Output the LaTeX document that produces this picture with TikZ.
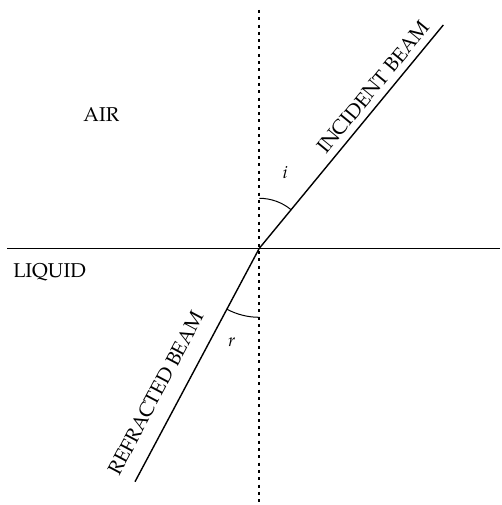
\documentclass[tikz,border=0pt]{standalone}
\usepackage{fontspec}
\setmainfont{TeX Gyre Pagella}
\begin{document}
\begin{tikzpicture}[x=1pt,y=1pt,
  beam/.style={line width=1.4pt},
  axisline/.style={line width=1.5pt},
  normalline/.style={line width=1.7pt, dash pattern=on 3pt off 4.3pt},
  anglearc/.style={line width=1pt},
  lbl/.style={inner sep=0pt, font=\fontsize{20}{24}\selectfont},
  anglbl/.style={inner sep=0pt, font=\fontsize{18}{22}\selectfont\itshape}]
\useasboundingbox (0,0) rectangle (501,-505);
\coordinate (O) at (259.3,-248.3);
\coordinate (A) at (443.3,-25);
\coordinate (B) at (135,-481.7);
\coordinate (H1) at (7,-248.3);
\coordinate (H2) at (500,-248.3);
\coordinate (V1) at (259.3,-10);
\coordinate (V2) at (259.3,-505);
\draw[axisline] (H1) -- (H2);
\draw[normalline] (V1) -- (V2);
\draw[beam] (O) -- (A);
\draw[beam] (O) -- (B);
\draw[anglearc] (O) ++(90:50pt) arc[start angle=90, end angle=50.5, radius=50pt];
\draw[anglearc] (O) ++(242:69pt) arc[start angle=242, end angle=270, radius=69pt];
\node[lbl, anchor=base] (air) at (101.3,-121.7) {AIR};
\node[lbl, anchor=base] (liquid) at (49.5,-277.7) {LIQUID};
\node[anglbl, anchor=base] (ilbl) at (285,-178.3) {i};
\node[anglbl, anchor=base] (rlbl) at (231.7,-346.7) {r};
\node[lbl, rotate=50.5] (inc) at (373.3,-87.2) {INCIDENT BEAM};
\node[lbl, rotate=62] (ref) at (155.8,-393) {REFRACTED BEAM};
\end{tikzpicture}
\end{document}
